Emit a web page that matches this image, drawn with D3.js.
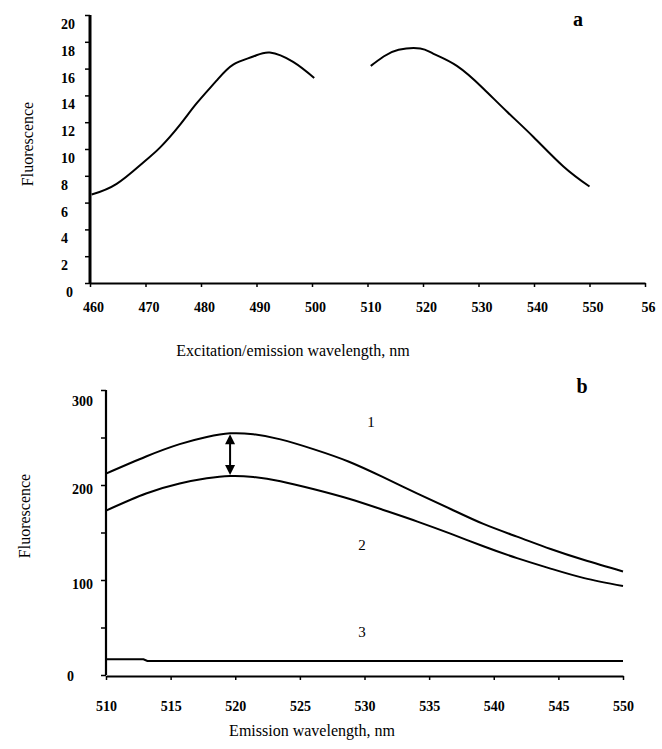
<!DOCTYPE html>
<html><head><meta charset="utf-8">
<script src="https://cdn.jsdelivr.net/npm/d3@7"></script>
<style>
html,body{margin:0;padding:0;background:#fff;}
svg{display:block;}
</style></head>
<body>
<script>
// ---------- Panel a data ----------
const aExWl  = [460.3, 464.8, 469.6, 472.6, 476.2, 479.2, 482.8, 485.8, 489.4, 492.4, 496.6, 500.4];
const aExVal = [6.6, 7.4, 9.0, 10.1, 11.8, 13.4, 15.1, 16.3, 16.9, 17.2, 16.5, 15.3];
const aEmWl  = [510.6, 512.9, 515.6, 519.5, 521.9, 526.1, 530.9, 535.1, 539.9, 545.3, 550.0];
const aEmVal = [16.2, 16.9, 17.4, 17.5, 17.1, 16.2, 14.5, 12.8, 10.9, 8.7, 7.2];
const aYTicks = [0, 2, 4, 6, 8, 10, 12, 14, 16, 18, 20];
const aXTicks = [460, 470, 480, 490, 500, 510, 520, 530, 540, 550, 560];
const aXLabels = ["460", "470", "480", "490", "500", "510", "520", "530", "540", "550", "56"];

// ---------- Panel b data ----------
const bWl   = [510, 513.1, 515.7, 517.8, 519.6, 521.4, 523.5, 526.1, 528.8, 531.4, 534.1, 536.7, 539.2, 541.8, 544.4, 547.0, 550.0];
const bCurve1 = [212, 230, 243, 250.5, 254.4, 253.4, 248, 237.5, 224.5, 208.5, 191, 174.5, 159, 145.6, 132.6, 121, 109];
const bCurve2 = [173, 191, 201.5, 207, 209.5, 208.5, 204, 195.5, 185.5, 174, 161.5, 148.5, 135.5, 123, 112, 102, 93.7];
const bCurve3Wl  = [510, 512.9, 513.2, 550];
const bCurve3Val = [16.5, 16.5, 14.7, 14.7];
const bYTicks = [0, 50, 100, 150, 200, 250, 300];
const bYLabels = {0: "0", 100: "100", 200: "200", 300: "300"};
const bXTicks = [510, 515, 520, 525, 530, 535, 540, 545, 550];
const arrowWl = 519.6;
const curveNames = ["1", "2", "3"];

const W = 662, H = 749;
const svg = d3.select("body").append("svg").attr("width", W).attr("height", H);
const serif = "'Liberation Serif', 'DejaVu Serif', serif";

// ---------- Panel a ----------
const xa = d3.scaleLinear().domain([460, 560]).range([90, 645]);
const ya = d3.scaleLinear().domain([0, 20]).range([283, 15]);
const ga = svg.append("g");

const yAxA = ga.append("g").attr("transform", `translate(${xa(460)},0)`)
  .call(d3.axisLeft(ya).tickValues(aYTicks).tickSize(5).tickSizeOuter(0).tickFormat(d => d));
yAxA.select(".domain").attr("stroke-width", 3).attr("d", `M0,${ya(0)}V${ya(20)}`);
yAxA.selectAll(".tick line").attr("stroke-width", 1.5);
yAxA.selectAll(".tick text")
  .attr("text-anchor", "start")
  .attr("x", d => d === 0 ? -24 : -29)
  .attr("dy", "0.32em")
  .attr("transform", "translate(0,9)")
  .style("font-family", serif).style("font-size", "14px").style("font-weight", "bold").attr("fill", "#000");

const xAxA = ga.append("g").attr("transform", `translate(0,${ya(0)})`)
  .call(d3.axisBottom(xa).tickValues(aXTicks).tickSize(4).tickSizeOuter(0).tickFormat((d, i) => aXLabels[i]));
xAxA.select(".domain").attr("stroke-width", 2.2);
xAxA.selectAll(".tick line").attr("stroke-width", 1.5);
xAxA.selectAll(".tick text")
  .attr("y", 19).attr("dy", "0.71em").attr("x", 3)
  .style("font-family", serif).style("font-size", "14px").style("font-weight", "bold").attr("fill", "#000");

const lineA = d3.line().curve(d3.curveNatural);
ga.append("path").attr("fill", "none").attr("stroke", "#000").attr("stroke-width", 2)
  .attr("d", lineA(aExWl.map((w, i) => [xa(w), ya(aExVal[i])])));
ga.append("path").attr("fill", "none").attr("stroke", "#000").attr("stroke-width", 2)
  .attr("d", lineA(aEmWl.map((w, i) => [xa(w), ya(aEmVal[i])])));

ga.append("text").attr("x", 293).attr("y", 356).attr("text-anchor", "middle")
  .style("font-family", serif).style("font-size", "16px").text("Excitation/emission wavelength, nm");
ga.append("text").attr("transform", "translate(33,144) rotate(-90)").attr("text-anchor", "middle")
  .style("font-family", serif).style("font-size", "16px").text("Fluorescence");
ga.append("text").attr("x", 578).attr("y", 26).attr("text-anchor", "middle")
  .style("font-family", serif).style("font-size", "20px").style("font-weight", "bold").text("a");

// ---------- Panel b ----------
const xb = d3.scaleLinear().domain([510, 550]).range([106, 623]);
const yb = d3.scaleLinear().domain([0, 300]).range([675, 390]);
const gb = svg.append("g");

const yAxB = gb.append("g").attr("transform", `translate(${xb(510)},0)`)
  .call(d3.axisLeft(yb).tickValues(bYTicks).tickSize(5).tickSizeOuter(0).tickFormat(d => bYLabels[d] || ""));
yAxB.select(".domain").attr("stroke-width", 2.2).attr("d", `M0,${yb(0)}V${yb(300)}`);
yAxB.selectAll(".tick line").attr("stroke-width", 1.5);
yAxB.selectAll(".tick text")
  .attr("text-anchor", "start")
  .attr("x", d => d === 0 ? -39 : -34)
  .attr("dy", "0.32em")
  .attr("transform", d => `translate(0,${d === 300 ? 11 : d === 0 ? 1 : 4})`)
  .style("font-family", serif).style("font-size", "14px").style("font-weight", "bold").attr("fill", "#000");

const xAxB = gb.append("g").attr("transform", `translate(0,${yb(0) + 1})`)
  .call(d3.axisBottom(xb).tickValues(bXTicks).tickSize(4).tickSizeOuter(0).tickFormat(d => d));
xAxB.select(".domain").attr("stroke-width", 2.2);
xAxB.selectAll(".tick line").attr("stroke-width", 1.5);
xAxB.selectAll(".tick text")
  .attr("y", 25).attr("dy", "0.71em")
  .style("font-family", serif).style("font-size", "14px").style("font-weight", "bold").attr("fill", "#000");

const lineB = d3.line().curve(d3.curveNatural);
gb.append("path").attr("fill", "none").attr("stroke", "#000").attr("stroke-width", 2)
  .attr("d", lineB(bWl.map((w, i) => [xb(w), yb(bCurve1[i])])));
gb.append("path").attr("fill", "none").attr("stroke", "#000").attr("stroke-width", 2)
  .attr("d", lineB(bWl.map((w, i) => [xb(w), yb(bCurve2[i])])));
gb.append("path").attr("fill", "none").attr("stroke", "#000").attr("stroke-width", 2)
  .attr("d", d3.line()(bCurve3Wl.map((w, i) => [xb(w), yb(bCurve3Val[i])])));

// double-headed arrow between curve 1 and curve 2 peaks
const ai = bWl.indexOf(arrowWl);
const ax = xb(arrowWl), ay1 = yb(bCurve1[ai]), ay2 = yb(bCurve2[ai]);
gb.append("line").attr("x1", ax).attr("x2", ax).attr("y1", ay1 + 8).attr("y2", ay2 - 8)
  .attr("stroke", "#000").attr("stroke-width", 2);
gb.append("path").attr("fill", "#000")
  .attr("d", `M${ax},${ay1 + 1}L${ax - 5},${ay1 + 11}L${ax + 5},${ay1 + 11}Z`);
gb.append("path").attr("fill", "#000")
  .attr("d", `M${ax},${ay2 - 1}L${ax - 5},${ay2 - 11}L${ax + 5},${ay2 - 11}Z`);

// curve labels
const labelPos = [[371, 427], [362, 550], [362, 637]];
curveNames.forEach((n, i) => {
  gb.append("text").attr("x", labelPos[i][0]).attr("y", labelPos[i][1]).attr("text-anchor", "middle")
    .style("font-family", serif).style("font-size", "15px").text(n);
});

gb.append("text").attr("x", 312).attr("y", 736).attr("text-anchor", "middle")
  .style("font-family", serif).style("font-size", "16px").text("Emission wavelength, nm");
gb.append("text").attr("transform", "translate(30,516) rotate(-90)").attr("text-anchor", "middle")
  .style("font-family", serif).style("font-size", "16px").text("Fluorescence");
gb.append("text").attr("x", 582).attr("y", 393).attr("text-anchor", "middle")
  .style("font-family", serif).style("font-size", "20px").style("font-weight", "bold").text("b");
</script>
</body></html>
